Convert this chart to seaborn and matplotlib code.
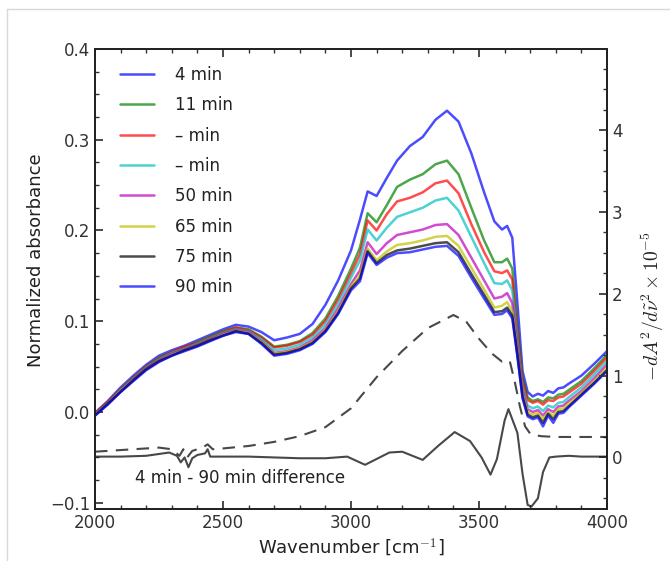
import numpy as np
import pandas as pd
import matplotlib
matplotlib.use("Agg")
import matplotlib.pyplot as plt
import seaborn as sns
from matplotlib.lines import Line2D
from matplotlib.ticker import MultipleLocator

# wavenumber grid shared by the absorbance spectra
wavenumber = [2000, 2050, 2100, 2150, 2200, 2250, 2300, 2350, 2400, 2450,
              2500, 2550, 2600, 2650, 2700, 2750, 2800, 2850, 2900, 2950,
              3000, 3035, 3065, 3100, 3140, 3180, 3230, 3280, 3330, 3375,
              3420, 3470, 3520, 3560, 3590, 3610, 3630, 3650, 3670, 3690,
              3710, 3730, 3750, 3770, 3790, 3810, 3830, 3850, 3900, 3950, 4000]

labels = ["4 min", "11 min", "\u2013 min", "\u2013 min", "50 min", "65 min", "75 min", "90 min"]
colors = [(0, 0, 1), (0, 0.5, 0), (1, 0, 0), (0, 0.75, 0.75),
          (0.75, 0, 0.75), (0.75, 0.75, 0), (0, 0, 0), (0, 0, 1)]

abs_4 = [-0.001, 0.012, 0.027, 0.040, 0.052, 0.062, 0.068, 0.073, 0.079, 0.085,
         0.091, 0.096, 0.094, 0.088, 0.079, 0.082, 0.086, 0.097, 0.118, 0.145,
         0.178, 0.212, 0.243, 0.238, 0.258, 0.277, 0.293, 0.303, 0.322, 0.332,
         0.320, 0.285, 0.242, 0.210, 0.201, 0.205, 0.192, 0.120, 0.045, 0.022,
         0.017, 0.020, 0.018, 0.023, 0.021, 0.026, 0.027, 0.031, 0.040, 0.053, 0.067]
abs_11 = [-0.002, 0.011, 0.025, 0.038, 0.050, 0.060, 0.066, 0.071, 0.077, 0.083,
          0.089, 0.093, 0.091, 0.083, 0.072, 0.074, 0.078, 0.087, 0.103, 0.128,
          0.158, 0.181, 0.219, 0.209, 0.228, 0.248, 0.256, 0.262, 0.273, 0.277,
          0.262, 0.225, 0.189, 0.165, 0.165, 0.169, 0.158, 0.095, 0.038, 0.016,
          0.012, 0.014, 0.011, 0.016, 0.015, 0.019, 0.020, 0.024, 0.034, 0.048, 0.063]
abs_a = [-0.002, 0.011, 0.025, 0.038, 0.050, 0.059, 0.066, 0.072, 0.076, 0.082,
         0.088, 0.093, 0.090, 0.082, 0.071, 0.073, 0.077, 0.085, 0.100, 0.124,
         0.153, 0.174, 0.211, 0.200, 0.218, 0.232, 0.236, 0.242, 0.252, 0.255,
         0.241, 0.207, 0.176, 0.155, 0.153, 0.156, 0.146, 0.088, 0.034, 0.013,
         0.010, 0.012, 0.008, 0.013, 0.012, 0.016, 0.017, 0.021, 0.031, 0.045, 0.060]
abs_b = [-0.003, 0.010, 0.024, 0.037, 0.049, 0.058, 0.065, 0.070, 0.075, 0.081,
         0.087, 0.091, 0.089, 0.080, 0.068, 0.070, 0.074, 0.082, 0.096, 0.119,
         0.148, 0.167, 0.201, 0.189, 0.203, 0.215, 0.220, 0.225, 0.233, 0.236,
         0.222, 0.193, 0.164, 0.142, 0.141, 0.145, 0.134, 0.080, 0.028, 0.007,
         0.004, 0.006, 0.001, 0.007, 0.005, 0.010, 0.011, 0.016, 0.027, 0.041, 0.056]
abs_50 = [-0.003, 0.010, 0.023, 0.036, 0.048, 0.057, 0.064, 0.069, 0.074, 0.080,
          0.086, 0.090, 0.088, 0.078, 0.065, 0.067, 0.071, 0.079, 0.092, 0.114,
          0.141, 0.156, 0.187, 0.174, 0.186, 0.195, 0.198, 0.201, 0.206, 0.207,
          0.195, 0.170, 0.145, 0.125, 0.127, 0.131, 0.120, 0.072, 0.024, 0.003,
          0.000, 0.002, -0.004, 0.003, 0.000, 0.006, 0.007, 0.012, 0.023, 0.037, 0.052]
abs_65 = [-0.003, 0.009, 0.023, 0.035, 0.047, 0.056, 0.063, 0.068, 0.073, 0.079,
          0.085, 0.089, 0.087, 0.077, 0.064, 0.066, 0.070, 0.077, 0.090, 0.111,
          0.138, 0.151, 0.180, 0.167, 0.177, 0.184, 0.186, 0.189, 0.193, 0.194,
          0.183, 0.159, 0.135, 0.115, 0.117, 0.121, 0.111, 0.066, 0.020, 0.000,
          -0.003, -0.001, -0.008, 0.000, -0.004, 0.003, 0.004, 0.009, 0.021, 0.034, 0.049]
abs_75 = [-0.004, 0.009, 0.022, 0.035, 0.047, 0.056, 0.062, 0.068, 0.073, 0.079,
          0.084, 0.089, 0.086, 0.076, 0.063, 0.065, 0.069, 0.076, 0.089, 0.109,
          0.136, 0.147, 0.177, 0.164, 0.173, 0.178, 0.180, 0.183, 0.186, 0.187,
          0.176, 0.152, 0.129, 0.110, 0.111, 0.115, 0.106, 0.063, 0.017, -0.003,
          -0.006, -0.004, -0.012, -0.002, -0.008, 0.000, 0.001, 0.006, 0.019, 0.032, 0.046]
abs_90 = [-0.004, 0.008, 0.022, 0.034, 0.046, 0.055, 0.062, 0.067, 0.072, 0.078,
          0.084, 0.088, 0.086, 0.075, 0.062, 0.064, 0.068, 0.075, 0.088, 0.108,
          0.134, 0.144, 0.175, 0.162, 0.170, 0.175, 0.176, 0.179, 0.182, 0.183,
          0.172, 0.148, 0.125, 0.107, 0.108, 0.112, 0.103, 0.061, 0.015, -0.005,
          -0.008, -0.006, -0.016, -0.004, -0.012, -0.002, -0.001, 0.005, 0.018, 0.031, 0.045]

# second-derivative curves (right axis, x 1e-5)
deriv_x = [2000, 2100, 2200, 2250, 2300, 2330, 2345, 2360, 2380, 2420, 2440, 2460,
           2500, 2600, 2700, 2800, 2900, 3000, 3100, 3200, 3300, 3400, 3450, 3500,
           3550, 3590, 3620, 3640, 3660, 3680, 3700, 3740, 3800, 3900, 4000]
deriv_4 = [0.07, 0.09, 0.11, 0.12, 0.10, 0.02, 0.10, 0.00, 0.08, 0.12, 0.16, 0.10,
           0.11, 0.14, 0.19, 0.26, 0.37, 0.60, 0.98, 1.30, 1.58, 1.74, 1.66, 1.45,
           1.27, 1.17, 1.18, 0.92, 0.62, 0.38, 0.29, 0.26, 0.25, 0.25, 0.25]
diff_x = [2000, 2100, 2200, 2290, 2320, 2335, 2350, 2365, 2380, 2400, 2430, 2440,
          2450, 2500, 2600, 2700, 2800, 2900, 2985, 3055, 3150, 3200, 3280, 3340,
          3405, 3465, 3510, 3545, 3570, 3600, 3615, 3650, 3670, 3690, 3705, 3730,
          3750, 3775, 3800, 3850, 3900, 3950, 4000]
diff_4_90 = [0.01, 0.01, 0.02, 0.06, 0.02, -0.06, 0.00, -0.12, -0.01, 0.03, 0.05, 0.10,
             0.01, 0.01, 0.01, 0.00, -0.01, -0.01, 0.01, -0.09, 0.06, 0.07, -0.03, 0.14,
             0.31, 0.20, 0.00, -0.21, -0.02, 0.45, 0.59, 0.30, -0.20, -0.58, -0.60, -0.50,
             -0.18, 0.00, 0.01, 0.02, 0.01, 0.01, 0.01]

sns.set_theme(style="ticks")
plt.rcParams['font.family'] = ['DejaVu Sans']
plt.rcParams['mathtext.fontset'] = 'cm'

fig = plt.figure(figsize=(6.7, 5.61), dpi=100)
ax = fig.add_axes([95 / 670, 1 - 509 / 561, 512 / 670, 460 / 561])

series = [abs_4, abs_11, abs_a, abs_b, abs_50, abs_65, abs_75, abs_90]
for vals, lab, col in zip(series, labels, colors):
    sns.lineplot(x=wavenumber, y=vals, ax=ax, color=col, alpha=0.7, lw=1.8,
                 label=lab, estimator=None, sort=False)

ax.set_xlim(2000, 4000)
ax.set_ylim(-0.107, 0.4)
ax.xaxis.set_major_locator(MultipleLocator(500))
ax.xaxis.set_minor_locator(MultipleLocator(100))
ax.yaxis.set_major_locator(MultipleLocator(0.1))
ax.yaxis.set_minor_locator(MultipleLocator(0.025))
ax.tick_params(which='both', direction='in', top=True, labelsize=12, colors='#333333')
ax.tick_params(which='major', length=6)
ax.tick_params(which='minor', length=3)
ax.set_xlabel("Wavenumber [cm$^{-1}$]", fontsize=13, color='#222222')
ax.set_ylabel("Normalized absorbance", fontsize=13, color='#222222')
ax.yaxis.set_label_coords(-0.098, 0.54)
for s in ax.spines.values():
    s.set_linewidth(1.3)
    s.set_color('#222222')

ax.text(2156, -0.0725, "4 min - 90 min difference", fontsize=12, color='#222222',
        va='center', ha='left')

leg = ax.legend(loc='upper left', bbox_to_anchor=(0.02, 0.996), frameon=False,
                fontsize=12, handlelength=2.0, handletextpad=1.3, labelspacing=0.74)
for t in leg.get_texts():
    t.set_color('#222222')

ax2 = ax.twinx()
sns.lineplot(x=deriv_x, y=deriv_4, ax=ax2, color='k', alpha=0.8, lw=1.5,
             estimator=None, sort=False)
ax2.lines[-1].set_dashes((6, 4))
sns.lineplot(x=diff_x, y=diff_4_90, ax=ax2, color='k', alpha=0.8, lw=1.5,
             estimator=None, sort=False)
ax2.set_ylim(-0.63, 4.99)
ax2.yaxis.set_major_locator(MultipleLocator(1))
ax2.yaxis.set_minor_locator(MultipleLocator(0.25))
ax2.tick_params(which='both', direction='in', labelsize=12, colors='#333333')
ax2.tick_params(which='major', length=6)
ax2.tick_params(which='minor', length=3)
ax2.set_ylabel(r"$-dA^2/d\tilde{\nu}^2 \times 10^{-5}$", fontsize=14, color='#222222')
ax2.yaxis.set_label_coords(1.064, 0.44)
for s in ax2.spines.values():
    s.set_linewidth(1.3)
    s.set_color('#222222')

# light screenshot frame
fig.add_artist(Line2D([7 / 670, 1], [1 - 9 / 561] * 2, color='#d8d8d8', lw=1,
                      transform=fig.transFigure))
fig.add_artist(Line2D([7 / 670] * 2, [0, 1 - 9 / 561], color='#d8d8d8', lw=1,
                      transform=fig.transFigure))

fig.savefig("out.png", dpi=100)
